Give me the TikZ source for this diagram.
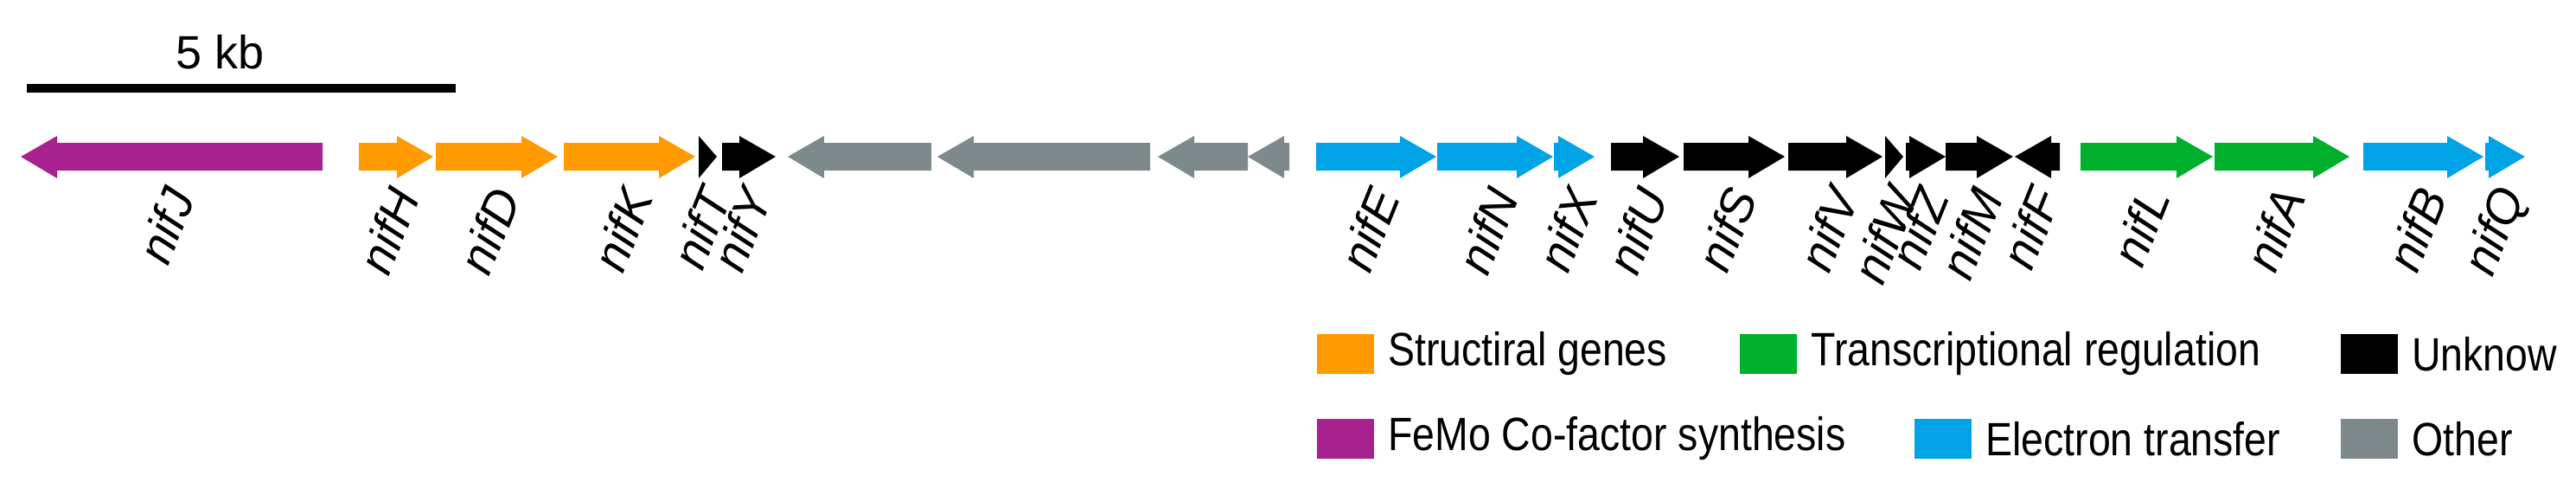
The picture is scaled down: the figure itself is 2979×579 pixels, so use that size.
\documentclass[tikz,border=0pt]{standalone}
\usepackage{fontspec}
\setmainfont{Liberation Sans}
\definecolor{cor}{HTML}{FF9A00}
\definecolor{cpu}{HTML}{A8228F}
\definecolor{cgr}{HTML}{7E898B}
\definecolor{cbl}{HTML}{00A3E6}
\definecolor{cgn}{HTML}{00AF2C}
\newcommand\gf[5]{%
 \pgfmathsetmacro\hb{max(#2,#3-42)}%
 \fill[#4] (#2,165) -- (\hb,165) -- (\hb,157) -- (#3,181) -- (\hb,206) -- (\hb,197) -- (#2,197) -- cycle;
 \node[lab] (#1) at ({(#2+#3)/2+10},220) {#5};}
\newcommand\gr[5]{%
 \pgfmathsetmacro\hb{min(#3,#2+42)}%
 \fill[#4] (#3,165) -- (\hb,165) -- (\hb,157) -- (#2,181) -- (\hb,206) -- (\hb,197) -- (#3,197) -- cycle;
 \ifx&#5&\else\node[lab] (#1) at ({(#2+#3)/2+10},220) {#5};\fi}
\begin{document}
\begin{tikzpicture}[x=0.5pt,y=-0.5pt,
 lab/.style={font=\fontsize{28}{28}\selectfont\itshape, rotate=68, anchor=east, inner sep=0pt},
 leg/.style={font=\fontsize{27}{27}\selectfont, anchor=west, inner sep=0pt},
 sq/.style={minimum width=33pt, minimum height=23pt, inner sep=0pt, anchor=west}]
\useasboundingbox (0,0) rectangle (2979,579);
\draw[line width=5pt] (31,102) coordinate (sb1) -- (527,102) coordinate (sb2);
\node[font=\fontsize{27}{27}\selectfont] (kb) at (255,60) {5 kb};
\gr{J}{24}{373}{cpu}{nifJ}
\gf{H}{415}{501}{cor}{nifH}
\gf{D}{504}{645}{cor}{nifD}
\gf{K}{652}{804}{cor}{nifK}
\gf{T}{808}{829}{black}{nifT}
\gf{Y}{835}{897}{black}{nifY}
\gr{g1}{911}{1077}{cgr}{}
\gr{g2}{1084}{1330}{cgr}{}
\gr{g3}{1339}{1443}{cgr}{}
\gr{g4}{1443}{1491}{cgr}{}
\gf{E}{1522}{1661}{cbl}{nifE}
\gf{N}{1662}{1796}{cbl}{nifN}
\gf{X}{1797}{1844}{cbl}{nifX}
\gf{U}{1863}{1942}{black}{nifU}
\gf{S}{1947}{2064}{black}{nifS}
\gf{V}{2068}{2177}{black}{nifV}
\gf{W}{2180}{2201}{black}{nifW}
\gf{Z}{2204}{2250}{black}{nifZ}
\gf{M}{2250}{2328}{black}{nifM}
\gr{F}{2330}{2382}{black}{nifF}
\gf{L}{2406}{2559}{cgn}{nifL}
\gf{A}{2561}{2717}{cgn}{nifA}
\gf{B}{2733}{2872}{cbl}{nifB}
\gf{Q}{2874}{2920}{cbl}{nifQ}
% legend
\node[sq,fill=cor] (s1) at (1523,409) {};
\node[leg] (t1) at (1605,409) {\scalebox{0.86}[1]{Structiral genes}};
\node[sq,fill=cgn] (s2) at (2012,409) {};
\node[leg] (t2) at (2094,409) {\scalebox{0.86}[1]{Transcriptional regulation}};
\node[sq,fill=black] (s3) at (2707,409) {};
\node[leg] (t3) at (2789,409) {\scalebox{0.86}[1]{Unknow}};
\node[sq,fill=cpu] (s4) at (1523,507) {};
\node[leg] (t4) at (1605,507) {\scalebox{0.86}[1]{FeMo Co-factor synthesis}};
\node[sq,fill=cbl] (s5) at (2214,507) {};
\node[leg] (t5) at (2296,507) {\scalebox{0.86}[1]{Electron transfer}};
\node[sq,fill=cgr] (s6) at (2707,507) {};
\node[leg] (t6) at (2789,507) {\scalebox{0.86}[1]{Other}};
\end{tikzpicture}
\end{document}
